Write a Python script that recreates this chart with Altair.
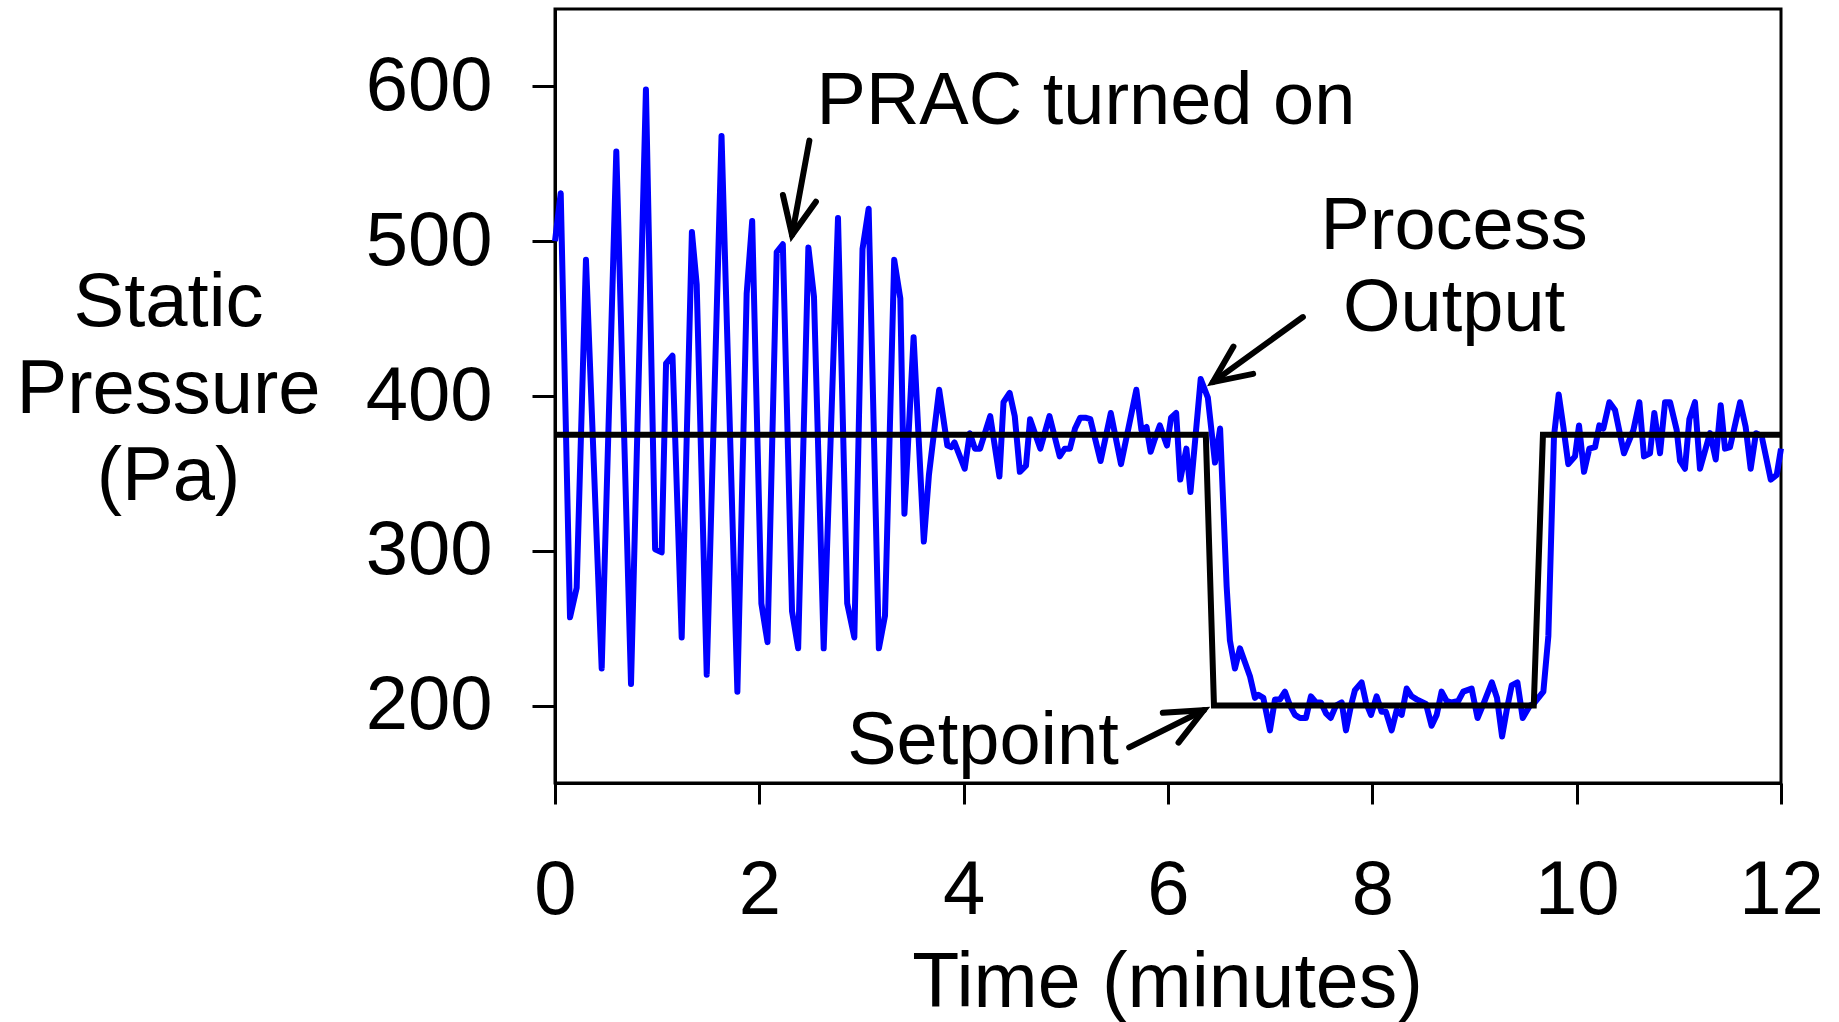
import altair as alt
import pandas as pd

# ---- data ----
out_t = [0.0, 0.056, 0.147, 0.212, 0.303, 0.457, 0.600, 0.744, 0.890, 0.980,
         1.044, 1.087, 1.150, 1.240, 1.340, 1.387, 1.485, 1.630, 1.785, 1.876,
         1.930, 2.020, 2.080, 2.170, 2.230, 2.320, 2.380, 2.480, 2.535, 2.630,
         2.770, 2.860, 2.930, 3.010, 3.070, 3.170, 3.230, 3.320, 3.380, 3.420,
         3.510, 3.610, 3.660, 3.760, 3.840, 3.880, 3.910, 4.010, 4.060, 4.110,
         4.160, 4.260, 4.350, 4.390, 4.450, 4.500, 4.550, 4.610, 4.650, 4.750,
         4.840, 4.940, 4.990, 5.040, 5.090, 5.140, 5.190, 5.240, 5.340, 5.440,
         5.540, 5.690, 5.740, 5.790, 5.830, 5.870, 5.920, 5.990, 6.030, 6.080,
         6.120, 6.180, 6.220, 6.320, 6.390, 6.460, 6.510, 6.574, 6.606, 6.655,
         6.704, 6.753, 6.802, 6.851, 6.884, 6.933, 6.998, 7.047, 7.096, 7.145,
         7.194, 7.243, 7.292, 7.350, 7.399, 7.448, 7.497, 7.546, 7.592, 7.644,
         7.700, 7.742, 7.791, 7.830, 7.895, 7.938, 7.987, 8.042, 8.091, 8.133,
         8.189, 8.238, 8.287, 8.336, 8.385, 8.434, 8.525, 8.580, 8.630, 8.678,
         8.727, 8.776, 8.841, 8.890, 8.972, 9.030, 9.093, 9.170, 9.220, 9.270,
         9.315, 9.364, 9.420, 9.472, 9.543, 9.576, 9.674, 9.723, 9.755, 9.778,
         9.824, 9.870, 9.918, 9.984, 10.023, 10.072, 10.124, 10.180, 10.222, 10.261,
         10.320, 10.375, 10.463, 10.555, 10.614, 10.659, 10.718, 10.760, 10.816, 10.865,
         10.914, 10.979, 11.012, 11.060, 11.103, 11.158, 11.207, 11.305, 11.361, 11.410,
         11.452, 11.501, 11.600, 11.654, 11.703, 11.755, 11.811, 11.900, 11.958, 12.0]
out_p = [500, 531, 257, 276, 488, 224, 558, 214, 598, 301,
         299, 421, 426, 244, 506, 472, 220, 568, 209, 466,
         513, 266, 241, 493, 498, 261, 237, 496, 464, 237,
         515, 266, 244, 495, 521, 237, 258, 488, 463, 324,
         438, 306, 349, 404, 368, 367, 370, 353, 376, 366,
         366, 387, 348, 396, 402, 387, 351, 355, 385, 366,
         387, 361, 366, 366, 379, 386, 386, 385, 358, 389,
         356, 404, 378, 380, 364, 372, 381, 368, 386, 389,
         346, 366, 338, 411, 399, 357, 379, 277, 242, 224,
         237, 228, 219, 205, 207, 205, 184, 204, 204, 209,
         200, 194, 192, 192, 206, 202, 202, 195, 192, 200,
         202, 184, 200, 210, 215, 202, 194, 206, 196, 196,
         184, 197, 194, 211, 206, 204, 201, 187, 194, 209,
         203, 202, 203, 209, 211, 192, 202, 215, 205, 180,
         197, 213, 215, 192, 200, 201, 209, 245, 320, 374,
         401, 380, 356, 361, 381, 351, 366, 367, 381, 379,
         396, 391, 363, 378, 396, 361, 363, 389, 363, 396,
         396, 378, 358, 353, 385, 396, 353, 376, 359, 394,
         366, 367, 396, 380, 353, 376, 374, 346, 349, 366]

sp_t = [0.0, 6.37, 6.45, 9.58, 9.67, 12.0]
sp_p = [375, 375, 200, 200, 375, 375]

x_ticks = [0, 2, 4, 6, 8, 10, 12]
y_ticks = [200, 300, 400, 500, 600]

# annotations (data coordinates)
note_text = ["PRAC turned on", "Process", "Output", "Setpoint"]
note_x = [2.56, 8.80, 8.80, 2.86]
note_y = [576, 495, 442, 162]
note_align = ["left", "center", "center", "left"]

arrow_x = [2.49, 7.32, 5.62]
arrow_y = [565, 451, 173]
arrow_x2 = [2.32, 6.44, 6.35]
arrow_y2 = [504, 409, 197]
arrow_angle = [191.4, 234.2, 62.2]

FONT = "Liberation Sans"
FS = 76
FS_NOTE = 74
LW = 6

df_out = pd.DataFrame({"t": out_t, "p": out_p})
df_sp = pd.DataFrame({"t": sp_t, "p": sp_p})
df_note = pd.DataFrame({"text": note_text, "x": note_x, "y": note_y, "align": note_align})
df_arrow = pd.DataFrame({"x": arrow_x, "y": arrow_y, "x2": arrow_x2, "y2": arrow_y2,
                         "ang": arrow_angle})

xscale = alt.Scale(domain=[0, 12], nice=False, zero=False)
yscale = alt.Scale(domain=[150, 650], nice=False, zero=False)

xaxis = alt.Axis(values=x_ticks, format="d", title="Time (minutes)", grid=False,
                 tickSize=21, labelPadding=49, titleX=612, titleY=223,
                 titleBaseline="alphabetic", titleAlign="center", titleFontSize=77)
yaxis = alt.Axis(values=y_ticks, format="d", title=["Static", "Pressure", "(Pa)"], grid=False,
                 tickSize=23, labelPadding=40, titleAngle=0, titleX=-387, titleY=316,
                 titleAlign="center", titleBaseline="alphabetic", titleLineHeight=87)

base_x = alt.X("t:Q", scale=xscale, axis=xaxis)
base_y = alt.Y("p:Q", scale=yscale, axis=yaxis)

blue = alt.Chart(df_out).mark_line(color="#0000ff", strokeJoin="round",
                                   strokeWidth=LW).encode(
    x=base_x, y=base_y, order="t:Q")

setpoint = alt.Chart(df_sp).mark_line(color="black", strokeWidth=LW).encode(
    x=alt.X("t:Q", scale=xscale), y=alt.Y("p:Q", scale=yscale), order="t:Q")

shafts = alt.Chart(df_arrow).mark_rule(color="black", strokeCap="round",
                                       strokeWidth=LW).encode(
    x=alt.X("x:Q", scale=xscale), y=alt.Y("y:Q", scale=yscale),
    x2="x2:Q", y2="y2:Q")

heads = alt.Chart(df_arrow).mark_point(
    shape="M-0.45,1L0,0L0.45,1", filled=False, stroke="black", strokeWidth=LW,
    size=5600, opacity=1, strokeCap="round", strokeJoin="miter").encode(
    x=alt.X("x2:Q", scale=xscale), y=alt.Y("y2:Q", scale=yscale),
    angle=alt.Angle("ang:Q", scale=None))

notes_left = alt.Chart(df_note[df_note["align"] == "left"]).mark_text(
    font=FONT, fontSize=FS_NOTE, color="black", align="left", baseline="alphabetic").encode(
    x=alt.X("x:Q", scale=xscale), y=alt.Y("y:Q", scale=yscale), text="text:N")
notes_center = alt.Chart(df_note[df_note["align"] == "center"]).mark_text(
    font=FONT, fontSize=FS_NOTE, color="black", align="center", baseline="alphabetic").encode(
    x=alt.X("x:Q", scale=xscale), y=alt.Y("y:Q", scale=yscale), text="text:N")

chart = alt.layer(blue, setpoint, shafts, heads, notes_left, notes_center).properties(
    width=1226, height=774,
    padding={"left": 555, "top": 9, "right": 58, "bottom": 239},
    autosize=alt.AutoSizeParams(type="none"),
    background="white",
).configure_view(
    stroke="black", strokeWidth=3
).configure_axis(
    domainColor="black", domainWidth=3, tickColor="black", tickWidth=3,
    labelFont=FONT, labelFontSize=FS, labelColor="black",
    titleFont=FONT, titleFontSize=FS, titleColor="black", titleFontWeight="normal",
    labelFlush=False, labelOverlap=False,
)

chart.save("out.html", embed_options={"renderer": "svg", "actions": False})
